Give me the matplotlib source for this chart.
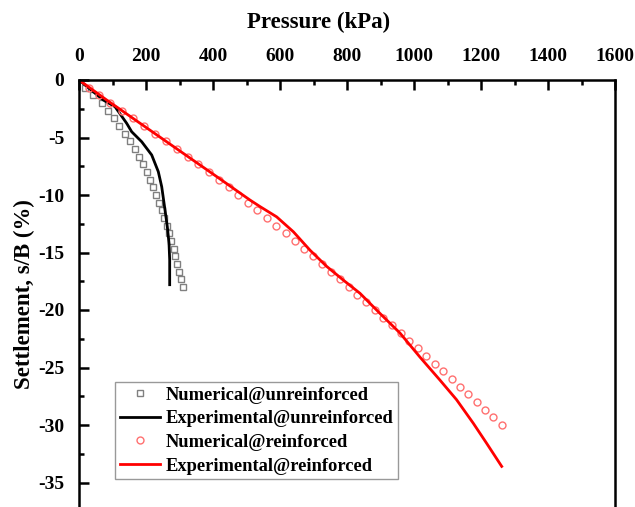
import matplotlib
matplotlib.use('Agg')
import matplotlib.pyplot as plt
from matplotlib.ticker import MultipleLocator

plt.rcParams['font.family'] = 'Liberation Serif'
plt.rcParams['font.weight'] = 'bold'
plt.rcParams['axes.unicode_minus'] = False

# Numerical, unreinforced (squares)
num_unr_p = [17.9, 42.7, 67.8, 87.5, 104.5, 120.3, 137.3, 152.2, 166.3, 179.1,
             191.0, 202.0, 212.0, 221.8, 230.7, 238.8, 246.9, 254.6, 262.7, 269.6,
             275.5, 282.7, 287.5, 292.5, 298.5, 303.6, 309.6]
num_unr_s = [-0.67, -1.33, -2.0, -2.67, -3.33, -4.0, -4.67, -5.33, -6.0, -6.67,
             -7.33, -8.0, -8.67, -9.33, -10.0, -10.67, -11.33, -12.0, -12.67, -13.33,
             -14.0, -14.67, -15.33, -16.0, -16.67, -17.33, -18.0]

# Experimental, unreinforced (black line)
exp_unr_p = [0, 72.5, 107.5, 142.4, 157.3, 187.2, 202.0, 217.0, 236.7, 246.9,
             256.7, 263.6, 268.7, 270.7, 270.7]
exp_unr_s = [0, -1.74, -2.32, -3.77, -4.5, -5.37, -5.94, -6.52, -7.97, -9.28,
             -11.3, -12.75, -14.2, -15.65, -17.8]

# Numerical, reinforced (circles)
num_rf_p = [30.7, 60.6, 92.5, 128.4, 162.1, 194.9, 227.8, 259.7, 291.6, 324.5,
            356.1, 388.1, 417.0, 446.3, 475.5, 503.6, 532.2, 561.2, 589.0, 617.0,
            644.8, 671.6, 697.6, 724.5, 751.3, 779.1, 804.5, 830.7, 856.7, 882.7,
            908.4, 934.3, 960.3, 985.9, 1011.0, 1035.8, 1061.8, 1087.5, 1112.6, 1137.3,
            1162.1, 1187.2, 1211.9, 1236.7, 1261.8]
num_rf_s = [-0.667, -1.333, -2.0, -2.667, -3.333, -4.0, -4.667, -5.333, -6.0, -6.667,
            -7.333, -8.0, -8.667, -9.333, -10.0, -10.667, -11.333, -12.0, -12.667, -13.333,
            -14.0, -14.667, -15.333, -16.0, -16.667, -17.333, -18.0, -18.667, -19.333, -20.0,
            -20.667, -21.333, -22.0, -22.667, -23.333, -24.0, -24.667, -25.333, -26.0, -26.667,
            -27.333, -28.0, -28.667, -29.333, -30.0]

# Experimental, reinforced (red line)
exp_rf_p = [0, 82.6, 411.0, 510.0, 540.0, 590.0, 640.0, 689.6, 739.0, 789.0,
            838.8, 898.5, 958.0, 1017.9, 1077.6, 1127.0, 1177.0, 1217.0, 1261.8]
exp_rf_s = [0, -1.74, -8.4, -10.43, -11.0, -11.9, -13.2, -14.8, -16.2, -17.4,
            -18.55, -20.3, -22.0, -24.1, -26.1, -27.8, -29.85, -31.6, -33.6]

ymin = -38.5
h_px = -ymin * 11.5
fig = plt.figure(figsize=(6.35, 5.07), dpi=100)
ax = fig.add_axes([79 / 635, 1 - 80 / 507 - h_px / 507, 536 / 635, h_px / 507])

ax.plot(num_unr_p, num_unr_s, 's', ms=4.2, mfc='none', mec='#808080', mew=1.0,
        label='Numerical@unreinforced')
ax.plot(exp_unr_p, exp_unr_s, '-', color='black', lw=2,
        label='Experimental@unreinforced')
ax.plot(num_rf_p, num_rf_s, 'o', ms=5, mfc='none', mec='#ff7070', mew=1.0,
        label='Numerical@reinforced')
ax.plot(exp_rf_p, exp_rf_s, '-', color='red', lw=2,
        label='Experimental@reinforced')

ax.set_xlim(0, 1600)
ax.set_ylim(ymin, 0)
ax.xaxis.set_major_locator(MultipleLocator(200))
ax.xaxis.set_minor_locator(MultipleLocator(100))
ax.yaxis.set_major_locator(MultipleLocator(5))
ax.yaxis.set_minor_locator(MultipleLocator(2.5))
ax.xaxis.tick_top()
ax.xaxis.set_label_position('top')
ax.tick_params(which='both', direction='in', width=1.8, labelsize=14,
               top=True, bottom=False, left=True, right=False)
ax.tick_params(which='major', length=7)
ax.tick_params(which='minor', length=3.5)
ax.tick_params(axis='x', which='major', pad=11)
ax.tick_params(axis='y', which='major', pad=10.5)
for lab in ax.get_xticklabels() + ax.get_yticklabels():
    lab.set_fontweight('bold')
for sp in ax.spines.values():
    sp.set_linewidth(1.8)
ax.spines['bottom'].set_visible(False)

ax.set_xlabel('Pressure (kPa)', fontsize=16.5, fontweight='bold')
ax.xaxis.set_label_coords((319 - 79) / 536, 1 + (80 - 22) / h_px)
ax.xaxis.label.set_va('center')
ax.set_ylabel('Settlement, s/B (%)', fontsize=16.5, fontweight='bold')
ax.yaxis.set_label_coords((24 - 79) / 536, 1 - (294 - 80) / h_px)
ax.yaxis.label.set_va('center')

leg = ax.legend(loc='upper left', bbox_to_anchor=(36 / 536, 1 - (382 - 80) / h_px),
                fontsize=13.3, frameon=True, fancybox=False, edgecolor='#808080',
                labelspacing=0.36, borderpad=0.25, handlelength=2.2, handletextpad=0.3,
                borderaxespad=0)
leg.get_frame().set_linewidth(1.0)
for t in leg.get_texts():
    t.set_fontweight('bold')

fig.savefig('out.png', dpi=100)
